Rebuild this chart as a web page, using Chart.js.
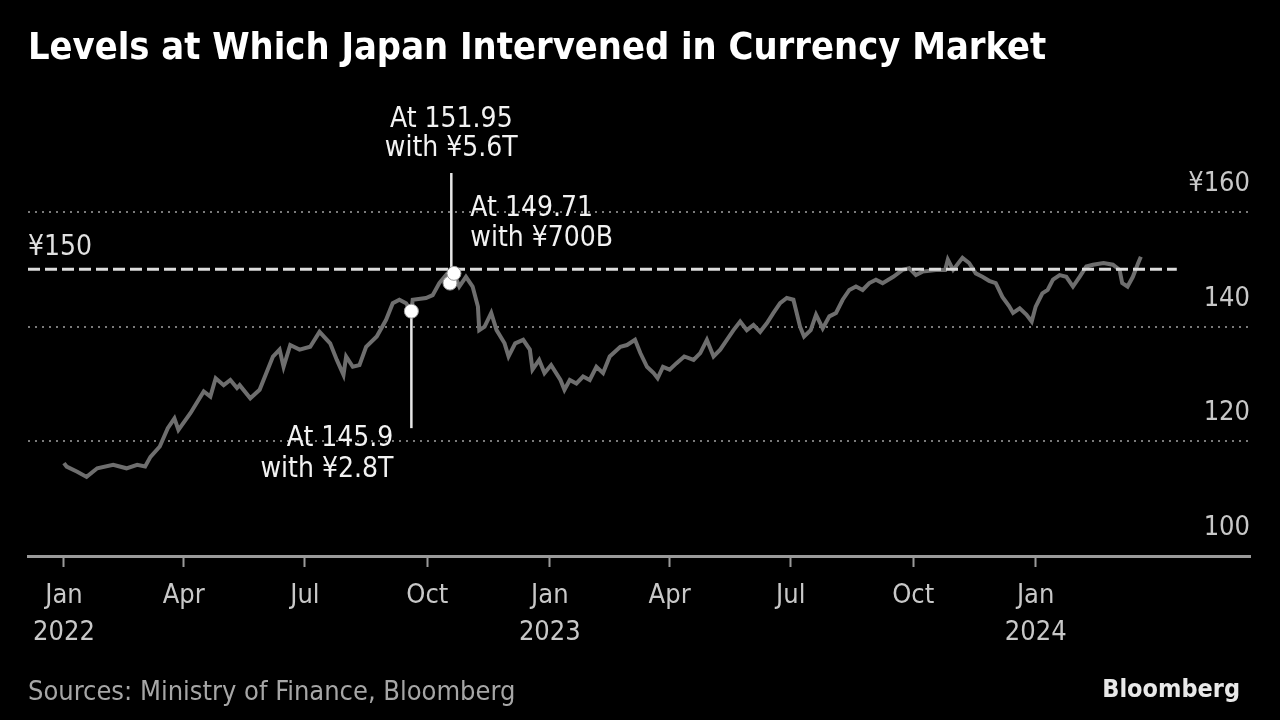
<!DOCTYPE html>
<html>
<head>
<meta charset="utf-8">
<script src="https://cdn.jsdelivr.net/npm/chart.js@4.4.1/dist/chart.umd.min.js"></script>
<style>
  html, body { margin: 0; padding: 0; background: #000; }
  #wrap { position: relative; width: 1280px; height: 720px; overflow: hidden; }
  #title { position: absolute; left: 28px; top: 24px; color: #fff; font: bold 37.7px 'DejaVu Sans Condensed', 'DejaVu Sans', sans-serif; white-space: nowrap; }
  #source { position: absolute; left: 28px; top: 675px; color: #a6a6a6; font: 27px 'DejaVu Sans Condensed', 'DejaVu Sans', sans-serif; white-space: nowrap; }
  #brand { position: absolute; right: 40px; top: 674px; color: #e8e8e8; font: bold 25px 'DejaVu Sans Condensed', 'DejaVu Sans', sans-serif; }
</style>
</head>
<body>
<div id="wrap">
  <canvas id="fxChart"></canvas>
  <div id="title">Levels at Which Japan Intervened in Currency Market</div>
  <div id="source">Sources: Ministry of Finance, Bloomberg</div>
  <div id="brand">Bloomberg</div>
</div>
<script>
// USD/JPY, days counted from 2022-01-01
const fxDays = [
  0, 2, 10, 17, 25, 37, 47, 55, 61, 65,
  72, 78, 83, 86, 95, 105, 110, 114, 120, 125,
  130, 132, 140, 147, 157, 162, 165, 170, 177, 185,
  192, 200, 205, 210, 212, 217, 222, 227, 235, 242,
  247, 252, 257, 261, 262, 272, 277, 282, 287, 290,
  293, 297, 302, 307, 311, 312, 316, 321, 325, 331,
  334, 339, 345, 350, 352, 357, 361, 366, 373, 376,
  380, 385, 390, 395, 400, 405, 410, 418, 423, 429,
  433, 438, 443, 446, 450, 455, 460, 466, 473, 478,
  483, 488, 493, 498, 503, 508, 513, 518, 523, 528,
  533, 538, 543, 548, 553, 556, 561, 565, 570, 575,
  580, 585, 590, 595, 600, 605, 610, 615, 623, 630,
  635, 640, 645, 655, 662, 664, 668, 675, 680, 685,
  690, 695, 700, 705, 710, 713, 718, 723, 727, 730,
  735, 739, 743, 748, 753, 758, 763, 768, 773, 781,
  788, 793, 795, 799, 803, 807, 809
];
const fxClose = [
  116.2, 115.6, 114.7, 113.8, 115.3, 115.9, 115.3, 115.9, 115.6, 117.3,
  119.1, 122.3, 124.0, 122.0, 124.9, 128.7, 127.8, 131.0, 129.8, 130.7,
  129.3, 129.8, 127.5, 129.0, 134.8, 136.0, 133.0, 136.8, 136.0, 136.5,
  139.1, 137.1, 134.2, 131.6, 134.8, 133.0, 133.3, 136.5, 138.3, 141.2,
  144.1, 144.7, 144.1, 142.7, 144.7, 145.0, 145.5, 147.6, 149.0, 147.6,
  149.3, 147.0, 148.7, 147.0, 143.5, 139.4, 140.0, 142.4, 139.4, 137.1,
  134.8, 137.1, 137.7, 136.0, 132.5, 134.2, 131.9, 133.3, 130.7, 129.0,
  130.7, 130.1, 131.3, 130.7, 133.0, 131.9, 134.8, 136.5, 136.8, 137.7,
  135.4, 133.0, 131.9, 131.0, 133.0, 132.5, 133.6, 134.8, 134.2, 135.4,
  137.7, 134.8, 136.0, 137.7, 139.4, 140.9, 139.4, 140.3, 139.1, 140.6,
  142.4, 144.1, 145.0, 144.7, 140.0, 138.3, 139.4, 142.1, 139.7, 141.8,
  142.4, 144.7, 146.4, 147.0, 146.4, 147.6, 148.2, 147.6, 148.7, 149.9,
  150.2, 149.0, 149.6, 149.9, 149.9, 151.7, 149.9, 152.0, 151.1, 149.3,
  148.7, 148.0, 147.6, 145.2, 143.6, 142.4, 143.2, 142.1, 140.9, 143.5,
  145.8, 146.4, 148.2, 149.0, 148.7, 147.0, 148.7, 150.5, 150.8, 151.1,
  150.8, 149.9, 147.6, 147.0, 148.7, 151.1, 152.2
];

// intervention days and where the line stood
const interventionDays = [261, 290, 293];
const interventionCloses = [142.7, 147.6, 149.3];
const interventionLevels = ['145.9', '151.95', '149.71'];
const interventionAmounts = ['¥2.8T', '¥5.6T', '¥700B'];

// the ¥150 reference line
const refLevel = 150;
const refDays = [-27, 836];

const tickDays = [0, 90, 181, 273, 365, 455, 546, 638, 730];
const tickLabels = [['Jan', '2022'], 'Apr', 'Jul', 'Oct', ['Jan', '2023'], 'Apr', 'Jul', 'Oct', ['Jan', '2024']];
const yTicks = [100, 120, 140, 160];

const FONT = "'DejaVu Sans Condensed', 'DejaVu Sans', sans-serif";

const annotate = {
  id: 'annotate',
  beforeDatasetsDraw(chart) {
    const ctx = chart.ctx;
    const xs = chart.scales.x, ys = chart.scales.y;
    ctx.save();
    ctx.strokeStyle = '#e6e6e6';
    ctx.lineWidth = 2.5;
    // stem below the September dot
    let x = xs.getPixelForValue(interventionDays[0]);
    ctx.beginPath();
    ctx.moveTo(x, ys.getPixelForValue(interventionCloses[0]));
    ctx.lineTo(x, ys.getPixelForValue(122.3));
    ctx.stroke();
    // stem above the October dots
    x = xs.getPixelForValue(291);
    ctx.beginPath();
    ctx.moveTo(x, ys.getPixelForValue(interventionCloses[2]));
    ctx.lineTo(x, ys.getPixelForValue(166.8));
    ctx.stroke();
    ctx.restore();
  },
  afterDraw(chart) {
    const ctx = chart.ctx;
    const xs = chart.scales.x, ys = chart.scales.y;
    const area = chart.chartArea;
    ctx.save();
    ctx.font = '28px ' + FONT;
    ctx.textBaseline = 'middle';
    ctx.fillStyle = '#f2f2f2';

    const lines = i => ['At ' + interventionLevels[i], 'with ' + interventionAmounts[i]];

    // September note, under the stem
    let x = xs.getPixelForValue(interventionDays[0]);
    let y = ys.getPixelForValue(122.3);
    ctx.textAlign = 'right';
    lines(0).forEach((t, k) => ctx.fillText(t, x - 18, y + 11 + k * 31));

    // Oct 21 note, above the stem
    x = xs.getPixelForValue(291);
    y = ys.getPixelForValue(166.8);
    ctx.textAlign = 'center';
    lines(1).forEach((t, k) => ctx.fillText(t, x, y - 53 + k * 29));

    // Oct 24 note
    y = ys.getPixelForValue(interventionCloses[2]);
    ctx.textAlign = 'left';
    lines(2).forEach((t, k) => ctx.fillText(t, x + 19, y - 65 + k * 30));

    // ¥150 label
    ctx.fillStyle = '#e0e0e0';
    ctx.fillText('¥' + refLevel, area.left, ys.getPixelForValue(refLevel) - 22);
    ctx.restore();
  }
};

new Chart(document.getElementById('fxChart'), {
  data: {
    datasets: [
      {
        type: 'scatter',
        data: interventionDays.map((d, i) => ({ x: d, y: interventionCloses[i] })),
        pointRadius: 7,
        pointBackgroundColor: '#ffffff',
        pointBorderColor: '#9a9a9a',
        pointBorderWidth: 1,
        order: 0
      },
      {
        type: 'line',
        data: refDays.map(d => ({ x: d, y: refLevel })),
        borderColor: '#dcdcdc',
        borderWidth: 3,
        borderDash: [12, 5],
        pointRadius: 0,
        order: 1
      },
      {
        type: 'line',
        data: fxDays.map((d, i) => ({ x: d, y: fxClose[i] })),
        borderColor: '#6e6e6e',
        borderWidth: 4,
        pointRadius: 0,
        tension: 0,
        order: 2
      }
    ]
  },
  plugins: [annotate],
  options: {
    responsive: true,
    maintainAspectRatio: false,
    animation: false,
    layout: { padding: { left: 28, right: 30, top: 212, bottom: 59 } },
    plugins: { legend: { display: false }, tooltip: { enabled: false } },
    scales: {
      x: {
        type: 'linear',
        min: -27,
        max: 891,
        afterBuildTicks: scale => { scale.ticks = tickDays.map(v => ({ value: v })); },
        ticks: {
          callback: (value, index) => tickLabels[index],
          color: '#c8c8c8',
          font: { family: FONT, size: 27, lineHeight: 1.37 },
          padding: 10,
          maxRotation: 0,
          autoSkip: false
        },
        grid: { drawOnChartArea: false, drawTicks: true, tickLength: 11, tickColor: '#9a9a9a', tickWidth: 2 },
        border: { display: true, color: '#9a9a9a', width: 3 }
      },
      y: {
        position: 'right',
        min: 100,
        max: 160,
        afterBuildTicks: scale => { scale.ticks = yTicks.map(v => ({ value: v })); },
        ticks: {
          mirror: true,
          padding: 0,
          labelOffset: -28,
          color: '#c8c8c8',
          font: { family: FONT, size: 27 },
          callback: value => value === 160 ? '¥' + value : String(value)
        },
        grid: { color: '#7a7a7a', lineWidth: 2, drawTicks: false },
        border: { display: false, dash: [2, 5] }
      }
    }
  }
});
</script>
</body>
</html>
